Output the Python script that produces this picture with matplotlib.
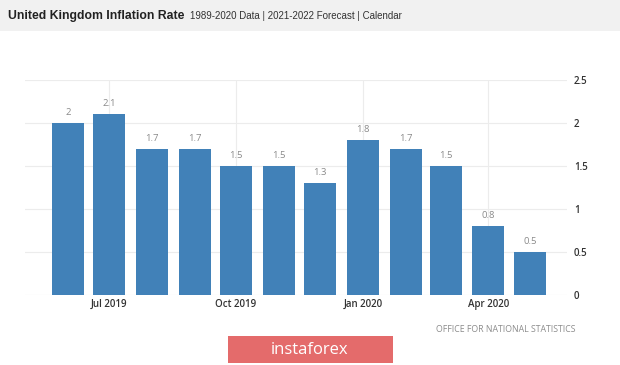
import datetime as dt
import matplotlib.pyplot as plt
import matplotlib.dates as mdates
from matplotlib.patches import Rectangle

months = ["2019-06", "2019-07", "2019-08", "2019-09", "2019-10", "2019-11",
          "2019-12", "2020-01", "2020-02", "2020-03", "2020-04", "2020-05"]
rates = [2.0, 2.1, 1.7, 1.7, 1.5, 1.5, 1.3, 1.8, 1.7, 1.5, 0.8, 0.5]
yticks = [0, 0.5, 1, 1.5, 2, 2.5]
ytick_labels = ["0", "0.5", "1", "1.5", "2", "2.5"]
xticks = ["2019-07", "2019-10", "2020-01", "2020-04"]

dates = [dt.datetime.strptime(m, "%Y-%m") for m in months]
tick_dates = [dt.datetime.strptime(m, "%Y-%m") for m in xticks]

plt.rcParams['font.family'] = ['Open Sans', 'DejaVu Sans']

W, H = 620, 365
fig = plt.figure(figsize=(W / 100, H / 100), dpi=100)
fig.patch.set_facecolor("white")

# grey header band
fig.patches.append(Rectangle((0, 1 - 31 / H), 1, 31 / H, transform=fig.transFigure,
                             facecolor="#f1f1f1", edgecolor="none", zorder=0))
fig.text(8 / W, 1 - 16 / H, "United Kingdom Inflation Rate", fontsize=8.8,
         fontweight="bold", color="#222222", va="center", family="Liberation Sans")
fig.text(190 / W, 1 - 16 / H, "1989-2020 Data | 2021-2022 Forecast | Calendar",
         fontsize=7.0, color="#333333", va="center", family="Liberation Sans")

ax = fig.add_axes([25 / W, 70 / H, 542 / W, 215 / H])
ax.bar(dates, rates, width=23.2, color="#4181b8", zorder=2)
for d, v in zip(dates, rates):
    ax.text(d, v + 0.07, f"{v:g}", ha="center", va="bottom", fontsize=6.8, color="#8a8a8a")

ax.set_xlim(dt.datetime(2019, 5, 1), dt.datetime(2020, 5, 28))
ax.set_ylim(0, 2.5)
ax.set_xticks(tick_dates)
ax.xaxis.set_major_formatter(mdates.DateFormatter("%b %Y"))
ax.set_yticks(yticks)
ax.set_yticklabels(ytick_labels)
ax.yaxis.tick_right()
ax.tick_params(axis="y", length=0, pad=5, labelsize=7, labelcolor="#333333")
ax.tick_params(axis="x", length=0, pad=3, labelsize=7, labelcolor="#333333")
for lab in ax.get_xticklabels() + ax.get_yticklabels():
    lab.set_fontweight("semibold")
ax.grid(True, color="#ececec", linewidth=0.8, zorder=0)
for s in ax.spines.values():
    s.set_visible(False)

fig.text(576 / W, 1 - 330 / H, "OFFICE FOR NATIONAL STATISTICS", fontsize=6.3,
         color="#8c8c8c", ha="right", va="center")

# logo
fig.patches.append(Rectangle((228 / W, 1 - 363 / H), 165 / W, 27 / H,
                             transform=fig.transFigure, facecolor="#e46b6b",
                             edgecolor="none", zorder=1))
fig.text(310 / W, 1 - 350 / H, "instaforex", fontsize=12, color="white",
         ha="center", va="center", zorder=2)

fig.savefig("out.png", dpi=100)
